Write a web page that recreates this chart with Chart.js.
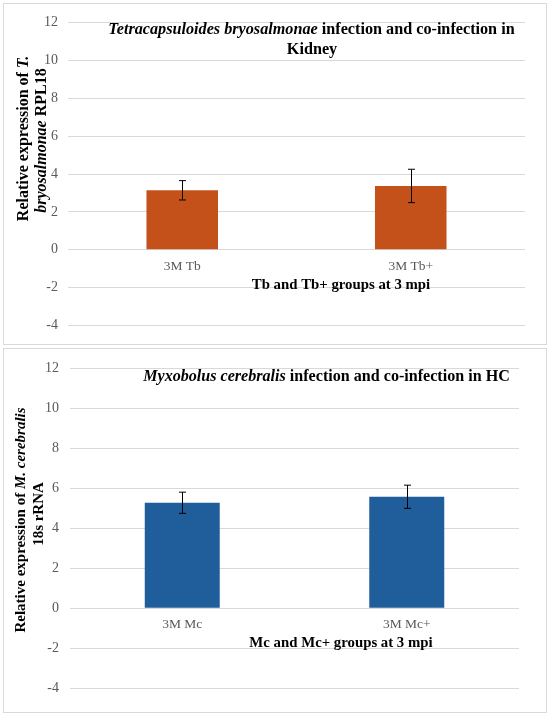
<!DOCTYPE html>
<html>
<head>
<meta charset="utf-8">
<script src="https://cdn.jsdelivr.net/npm/chart.js@4.4.1/dist/chart.umd.min.js"></script>
<style>
  html, body { margin: 0; padding: 0; background: #ffffff; }
  body { width: 550px; height: 715px; position: relative; overflow: hidden; }
  .panel { position: absolute; border: 1px solid #d9d9d9; box-sizing: content-box; background: #fff; }
  .panel canvas { display: block; }
</style>
</head>
<body>
<div class="panel" id="p1" style="left:3px; top:3px; width:542px; height:340px;"><canvas id="c1"></canvas></div>
<div class="panel" id="p2" style="left:3px; top:348px; width:542px; height:363px;"><canvas id="c2"></canvas></div>
<script>
// ---------- data ----------
const tbCategories = ['3M Tb', '3M Tb+'];
const tbValues = [3.14, 3.37];
const tbErrors = [0.51, 0.88];

const mcCategories = ['3M Mc', '3M Mc+'];
const mcValues = [5.28, 5.58];
const mcErrors = [0.53, 0.58];

const yMin = -4, yMax = 12, yStep = 2;

const tbTitleLines = [
  [{t: 'Tetracapsuloides bryosalmonae', i: true}, {t: ' infection and co-infection in', i: false}],
  [{t: 'Kidney', i: false}]
];
const tbYTitleLines = [
  [{t: 'Relative expression of ', i: false}, {t: 'T.', i: true}],
  [{t: 'bryosalmonae', i: true}, {t: ' RPL18', i: false}]
];
const tbXTitle = 'Tb and Tb+ groups at 3 mpi';

const mcTitleLines = [
  [{t: 'Myxobolus cerebralis', i: true}, {t: ' infection and co-infection in HC', i: false}]
];
const mcYTitleLines = [
  [{t: 'Relative expression of ', i: false}, {t: 'M. cerebralis', i: true}],
  [{t: '18s rRNA', i: false}]
];
const mcXTitle = 'Mc and Mc+ groups at 3 mpi';

// ---------- helpers ----------
const SERIF = '"Liberation Serif", "Times New Roman", serif';
function fontOf(italic, size) {
  return (italic ? 'italic ' : '') + 'bold ' + size + 'px ' + SERIF;
}
function drawRich(ctx, segs, cx, cy, size) {
  let w = 0;
  segs.forEach(s => { ctx.font = fontOf(s.i, size); w += ctx.measureText(s.t).width; });
  let x = cx - w / 2;
  ctx.textAlign = 'left';
  ctx.textBaseline = 'middle';
  segs.forEach(s => {
    ctx.font = fontOf(s.i, size);
    ctx.fillText(s.t, x, cy);
    x += ctx.measureText(s.t).width;
  });
}

function makeChart(canvasId, cfg) {
  const errPlugin = {
    id: 'extras',
    afterDatasetsDraw(chart) {
      const ctx = chart.ctx;
      const meta = chart.getDatasetMeta(0);
      const ys = chart.scales.y;
      ctx.save();
      ctx.strokeStyle = '#000';
      ctx.lineWidth = 1;
      meta.data.forEach((bar, i) => {
        const v = cfg.values[i], e = cfg.errors[i];
        const x = Math.round(bar.x) + 0.5;
        const y1 = ys.getPixelForValue(v + e);
        const y2 = ys.getPixelForValue(v - e);
        ctx.beginPath();
        ctx.moveTo(x, y1); ctx.lineTo(x, y2);
        ctx.moveTo(x - 3.5, y1); ctx.lineTo(x + 3.5, y1);
        ctx.moveTo(x - 3.5, y2); ctx.lineTo(x + 3.5, y2);
        ctx.stroke();
      });
      ctx.restore();
    },
    afterDraw(chart) {
      const ctx = chart.ctx;
      const ox = cfg.ox, oy = cfg.oy;
      ctx.save();
      ctx.fillStyle = '#000';
      cfg.titleLines.forEach((segs, k) => {
        drawRich(ctx, segs, cfg.titlePos[k][0] - ox, cfg.titlePos[k][1] - oy, cfg.titleSize);
      });
      drawRich(ctx, [{t: cfg.xTitle, i: false}], cfg.xTitlePos[0] - ox, cfg.xTitlePos[1] - oy, cfg.xTitleSize);
      cfg.yTitleLines.forEach((segs, k) => {
        ctx.save();
        ctx.translate(cfg.yTitlePos[k][0] - ox, cfg.yTitlePos[k][1] - oy);
        ctx.rotate(-Math.PI / 2);
        drawRich(ctx, segs, 0, 0, cfg.yTitleSize);
        ctx.restore();
      });
      ctx.restore();
    }
  };

  return new Chart(document.getElementById(canvasId), {
    type: 'bar',
    data: {
      labels: cfg.labels,
      datasets: [{
        data: cfg.values,
        backgroundColor: cfg.color,
        borderWidth: 0,
        barPercentage: cfg.barPct,
        categoryPercentage: 1
      }]
    },
    options: {
      responsive: true,
      maintainAspectRatio: false,
      animation: false,
      devicePixelRatio: 1,
      layout: { padding: cfg.padding },
      plugins: { legend: { display: false }, tooltip: { enabled: false }, title: { display: false } },
      scales: {
        x: {
          position: { y: 0 },
          grid: { display: false, drawTicks: false },
          border: { display: false },
          ticks: { color: '#595959', font: { family: SERIF, size: 13.5 }, padding: cfg.xTickPad, maxRotation: 0 },
          afterFit(scale) { scale.height = 0; }
        },
        y: {
          min: yMin, max: yMax,
          grid: { color: '#d9d9d9', lineWidth: 1, drawTicks: false },
          border: { display: false },
          ticks: { stepSize: yStep, color: '#595959', font: { family: SERIF, size: 14 }, padding: cfg.yTickPad },
          afterFit(scale) { scale.width = cfg.yWidth; }
        }
      }
    },
    plugins: [errPlugin]
  });
}

makeChart('c1', {
  ox: 4, oy: 4,
  labels: tbCategories, values: tbValues, errors: tbErrors,
  color: '#C4511A', barPct: 0.313,
  padding: { top: 11, right: 21, bottom: 16.6, left: 0 },
  yWidth: 64, yTickPad: 10, xTickPad: 8.5,
  titleLines: tbTitleLines, titlePos: [[311.5, 30], [312, 50]], titleSize: 16.2,
  xTitle: tbXTitle, xTitlePos: [341, 285], xTitleSize: 14.8,
  yTitleLines: tbYTitleLines, yTitlePos: [[24, 138.5], [42, 140.5]], yTitleSize: 16
});

makeChart('c2', {
  ox: 4, oy: 349,
  labels: mcCategories, values: mcValues, errors: mcErrors,
  color: '#205E9B', barPct: 0.334,
  padding: { top: 11.6, right: 27, bottom: 23.7, left: 0 },
  yWidth: 66, yTickPad: 11, xTickPad: 8.2,
  titleLines: mcTitleLines, titlePos: [[326.5, 376.7]], titleSize: 16.1,
  xTitle: mcXTitle, xTitlePos: [341, 643.3], xTitleSize: 14.8,
  yTitleLines: mcYTitleLines, yTitlePos: [[21, 520], [39, 514]], yTitleSize: 15
});
</script>
</body>
</html>
